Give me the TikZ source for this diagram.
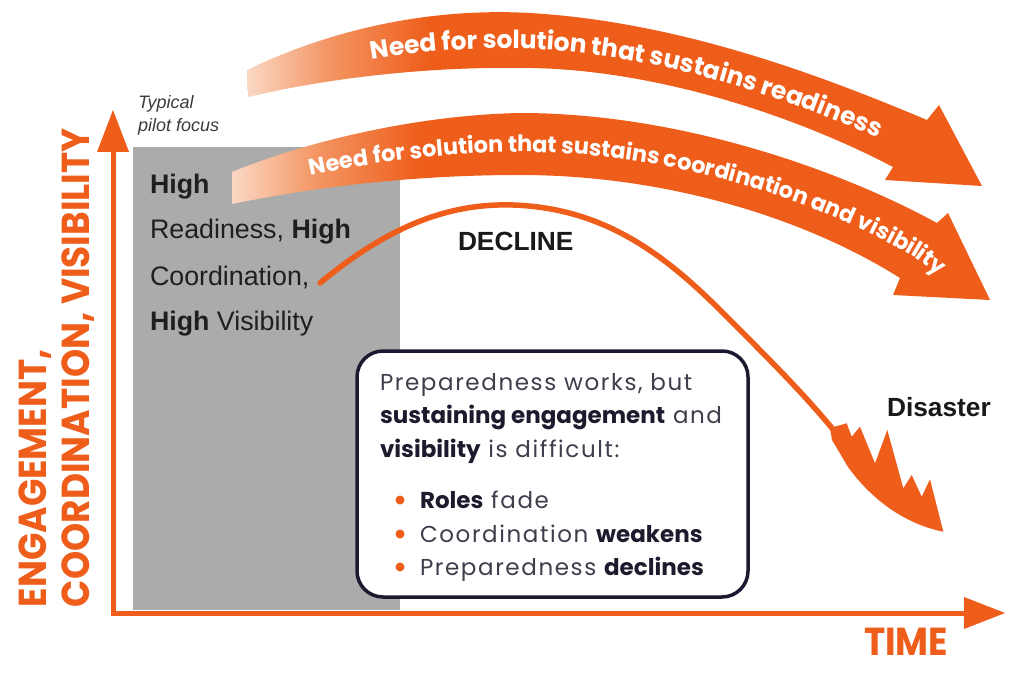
\documentclass[tikz,border=0pt]{standalone}
\usepackage{fontspec}
\setmainfont{Liberation Sans}
\newfontfamily\popfont{Poppins}
\newfontfamily\axfont[FakeStretch=0.92]{Poppins}
\newfontfamily\boxfont[LetterSpace=7, BoldFeatures={LetterSpace=0}]{Poppins}
\usetikzlibrary{decorations.text}
\definecolor{org}{RGB}{238,93,26}
\definecolor{peachc}{RGB}{251,216,196}
\definecolor{peachm}{RGB}{243,150,100}
\definecolor{grayfill}{RGB}{171,171,171}
\definecolor{navy}{RGB}{27,26,48}
\definecolor{boxtxt}{RGB}{62,62,76}
\definecolor{boxbold}{RGB}{28,27,45}
\definecolor{pilottxt}{RGB}{60,60,60}
\pgfdeclarehorizontalshading{bandshade}{100bp}{color(0bp)=(peachc); color(25bp)=(peachc); color(30.5bp)=(peachm); color(37.5bp)=(org); color(100bp)=(org)}
\newcommand\bandfontA{\popfont\bfseries\fontsize{25}{30}\selectfont}
\newcommand\bandfontB{\popfont\bfseries\fontsize{22.5}{26}\selectfont}
\newcommand\bx[1]{{\bfseries\color{boxbold}#1}}
\tikzset{
  every node/.style={inner sep=0pt, outer sep=0pt},
  axisline/.style={draw=org, line width=5pt, line join=miter},
  tipfill/.style={fill=org},
  band/.style={shade, shading=bandshade},
  graytxt/.style={anchor=base west, font=\fontsize{26.8}{30}\selectfont, text=black!88},
  pilotlab/.style={anchor=base west, font=\itshape\fontsize{18}{20}\selectfont, text=pilottxt},
  axislab/.style={anchor=base west, font=\axfont\bfseries\fontsize{39}{44}\selectfont, text=org},
  curvelab/.style={anchor=base west, font=\bfseries\fontsize{26.3}{30}\selectfont, text=black!90},
  boxline/.style={anchor=base west, font=\boxfont\fontsize{23}{28}\selectfont, text=boxtxt},
  callout/.style={draw=navy, line width=3.5pt, rounded corners=26pt, fill=white, minimum width=391pt, minimum height=246pt, anchor=north west},
  dot/.style={circle, fill=org, minimum size=9pt},
  declinecurve/.style={draw=org, line width=5.5pt, line cap=round},
}
\begin{document}
\begin{tikzpicture}[x=1pt,y=-1pt]
\path[use as bounding box, fill=white] (0,0) rectangle (1024,676);

% grey pilot area
\node[fill=grayfill, minimum width=267pt, minimum height=463pt, anchor=north west] (pilot) at (133,147) {};

% axes
\coordinate (O) at (113,613);
\coordinate (ytip) at (113,110);
\coordinate (xtip) at (1005,613);
\coordinate (ybase) at (113,148);
\coordinate (xbase) at (968,613);
\draw[axisline] (ybase) -- (O) -- (xbase);
\fill[tipfill] (ytip) -- (97,152) -- (129,152) -- cycle;
\fill[tipfill] (xtip) -- (964,597) -- (964,629) -- cycle;

% band 1
\coordinate (b1tl) at (247,70);
\coordinate (b1bl) at (248,97);
\coordinate (b1tip) at (982,186);
\path[band] (b1tl) .. controls (340,25) and (440,8) .. (530,13)
  .. controls (680,22) and (820,75) .. (927,120) -- (939,105) -- (b1tip)
  -- (885,180) -- (893,167) .. controls (800,118) and (660,70) .. (530,68)
  .. controls (420,66) and (320,80) .. (b1bl) -- cycle;
\path[decorate, decoration={text along path, text color=white,
   text={|\bandfontA|Need for solution that sustains readiness},
   text align={left indent=128pt}, raise=-9pt}]
  (247,84) .. controls (330,52) and (430,37) .. (530,40)
  .. controls (670,46) and (810,96) .. (910,143) -- (960,175);

% band 2
\coordinate (b2tl) at (232,172);
\coordinate (b2bl) at (232,204);
\coordinate (b2tip) at (990,300);
\path[band] (b2tl) .. controls (310,140) and (420,115) .. (520,113)
  .. controls (680,113) and (840,170) .. (937,223) -- (948,213) -- (b2tip)
  -- (893,295) -- (900,278) .. controls (800,215) and (660,175) .. (520,175)
  .. controls (400,175) and (300,190) .. (b2bl) -- cycle;
\path[decorate, decoration={text along path, text color=white,
   text={|\bandfontB|Need for solution that sustains coordination and visibility},
   text align={left indent=80pt}, raise=-8pt}]
  (232,188) .. controls (305,165) and (410,145) .. (520,144)
  .. controls (670,144) and (820,192) .. (918,250) -- (975,292);

% decline curve
\coordinate (cs) at (320,283);
\coordinate (ce) at (836,433);
\draw[declinecurve] (cs) .. controls (390,225) and (450,203) .. (513,205)
  .. controls (600,208) and (660,250) .. (720,310)
  .. controls (770,360) and (805,395) .. (ce);
\fill[org] (830,428) -- (846.7,423.3) -- (851.7,436.7) -- (860,426.7) -- (875,463.3)
  -- (887.3,430) -- (903.3,488.3) -- (911.7,475) -- (921.7,496.7) -- (930,479.3)
  -- (943.3,531.7) .. controls (905,524) and (872,500) .. (848,467) -- (832,440) -- cycle;

% labels
\node[pilotlab] (typ1) at (138,109) {Typical};
\node[pilotlab] (typ2) at (138,132) {pilot focus};
\node[graytxt] (g1) at (150,194) {\bfseries High};
\node[graytxt] (g2) at (150,239) {Readiness, \bfseries High};
\node[graytxt] (g3) at (150,285) {Coordination,};
\node[graytxt] (g4) at (150,330) {\bfseries High\mdseries{} Visibility};
\node[curvelab] (decl) at (458,251) {DECLINE};
\node[curvelab] (dis) at (887,416) {Disaster};

\node[axislab, rotate=90] (ylab1) at (46,607) {ENGAGEMENT,};
\node[axislab, rotate=90] (ylab2) at (89,607) {COORDINATION, VISIBILITY};
\node[axislab] (xlab) at (864,655) {TIME};

% callout box
\node[callout] (box) at (357,351) {};
\node[boxline] (t1) at (380,390) {Preparedness works, but};
\node[boxline] (t2) at (380,423) {\bx{sustaining engagement} and};
\node[boxline] (t3) at (380,457) {\bx{visibility} is difficult:};
\node[dot] (d1) at (400,500) {};
\node[dot] (d2) at (400,534) {};
\node[dot] (d3) at (400,567) {};
\node[boxline] (i1) at (420,508) {\bx{Roles} fade};
\node[boxline] (i2) at (420,542) {Coordination \bx{weakens}};
\node[boxline] (i3) at (420,575) {Preparedness \bx{declines}};
\end{tikzpicture}
\end{document}
